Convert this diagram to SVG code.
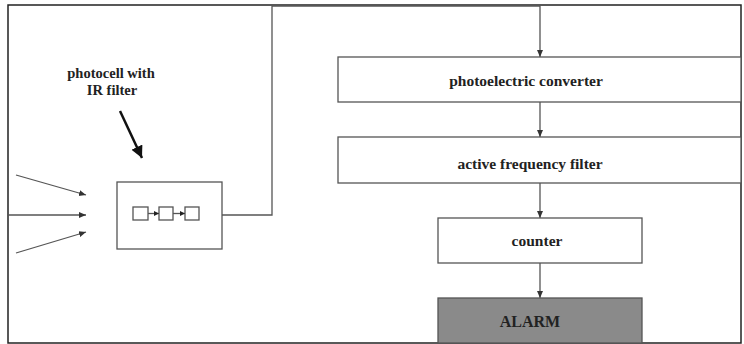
<svg xmlns="http://www.w3.org/2000/svg" width="744" height="344" viewBox="0 0 744 344">
<defs>
<style>
.box{fill:#fff;stroke:#555;stroke-width:1.3}
.ln{fill:none;stroke:#555;stroke-width:1.3}
.t{font-family:"Liberation Serif","Times New Roman",serif;font-weight:bold;fill:#222;text-anchor:middle}
</style>
<marker id="ah" markerWidth="8" markerHeight="8" refX="7" refY="4" orient="auto" markerUnits="userSpaceOnUse"><path d="M0,1 L7,4 L0,7 Z" fill="#333"/></marker>
<marker id="ahs" markerWidth="6" markerHeight="6" refX="5" refY="3" orient="auto" markerUnits="userSpaceOnUse"><path d="M0,0.5 L5,3 L0,5.5 Z" fill="#222"/></marker>
<marker id="big" markerWidth="14" markerHeight="14" refX="12" refY="7" orient="auto" markerUnits="userSpaceOnUse"><path d="M0,1 L12,7 L0,13 Z" fill="#111"/></marker>
</defs>
<rect x="0" y="0" width="744" height="344" fill="#fff"/>
<rect x="8" y="5" width="733" height="338" fill="none" stroke="#222" stroke-width="1.5"/>
<g id="connectors">
<line class="ln" x1="16" y1="175" x2="86" y2="195" marker-end="url(#ah)"/>
<line class="ln" x1="8" y1="215" x2="86" y2="215" marker-end="url(#ah)"/>
<line class="ln" x1="16" y1="253" x2="86" y2="232" marker-end="url(#ah)"/>
<polyline class="ln" points="222,215 272,215 272,6 540,6 540,57" marker-end="url(#ah)"/>
<line class="ln" x1="540" y1="102" x2="540" y2="137" marker-end="url(#ah)"/>
<line class="ln" x1="540" y1="183" x2="540" y2="218" marker-end="url(#ah)"/>
<line class="ln" x1="540" y1="263" x2="540" y2="298" marker-end="url(#ah)"/>
<line x1="120" y1="111" x2="142" y2="158" stroke="#111" stroke-width="2.5" marker-end="url(#big)"/>
</g>
<g id="photocell">
<rect class="box" x="117" y="182" width="105" height="67"/>
<rect class="box" x="133" y="207" width="15" height="13"/>
<rect class="box" x="159" y="207" width="14" height="13"/>
<rect class="box" x="185" y="207" width="14" height="13"/>
<line class="ln" x1="148" y1="213.5" x2="159" y2="213.5" marker-end="url(#ahs)"/>
<line class="ln" x1="173" y1="213.5" x2="185" y2="213.5" marker-end="url(#ahs)"/>
</g>
<g id="label-photocell">
<text class="t" x="111" y="78" font-size="14.5">photocell with</text>
<text class="t" x="112" y="95" font-size="14.5">IR filter</text>
</g>
<g id="converter">
<rect class="box" x="338" y="57" width="403" height="45"/>
<text class="t" x="526" y="86" font-size="15.5">photoelectric converter</text>
</g>
<g id="filter">
<rect class="box" x="338" y="137" width="403" height="46"/>
<text class="t" x="530" y="169" font-size="15.5">active frequency filter</text>
</g>
<g id="counter">
<rect class="box" x="438" y="218" width="204" height="45"/>
<text class="t" x="537" y="246" font-size="15.5">counter</text>
</g>
<g id="alarm">
<rect x="438" y="298" width="204" height="45" fill="#8a8a8a" stroke="#555" stroke-width="1.3"/>
<text class="t" x="530" y="327" font-size="16">ALARM</text>
</g>
</svg>
